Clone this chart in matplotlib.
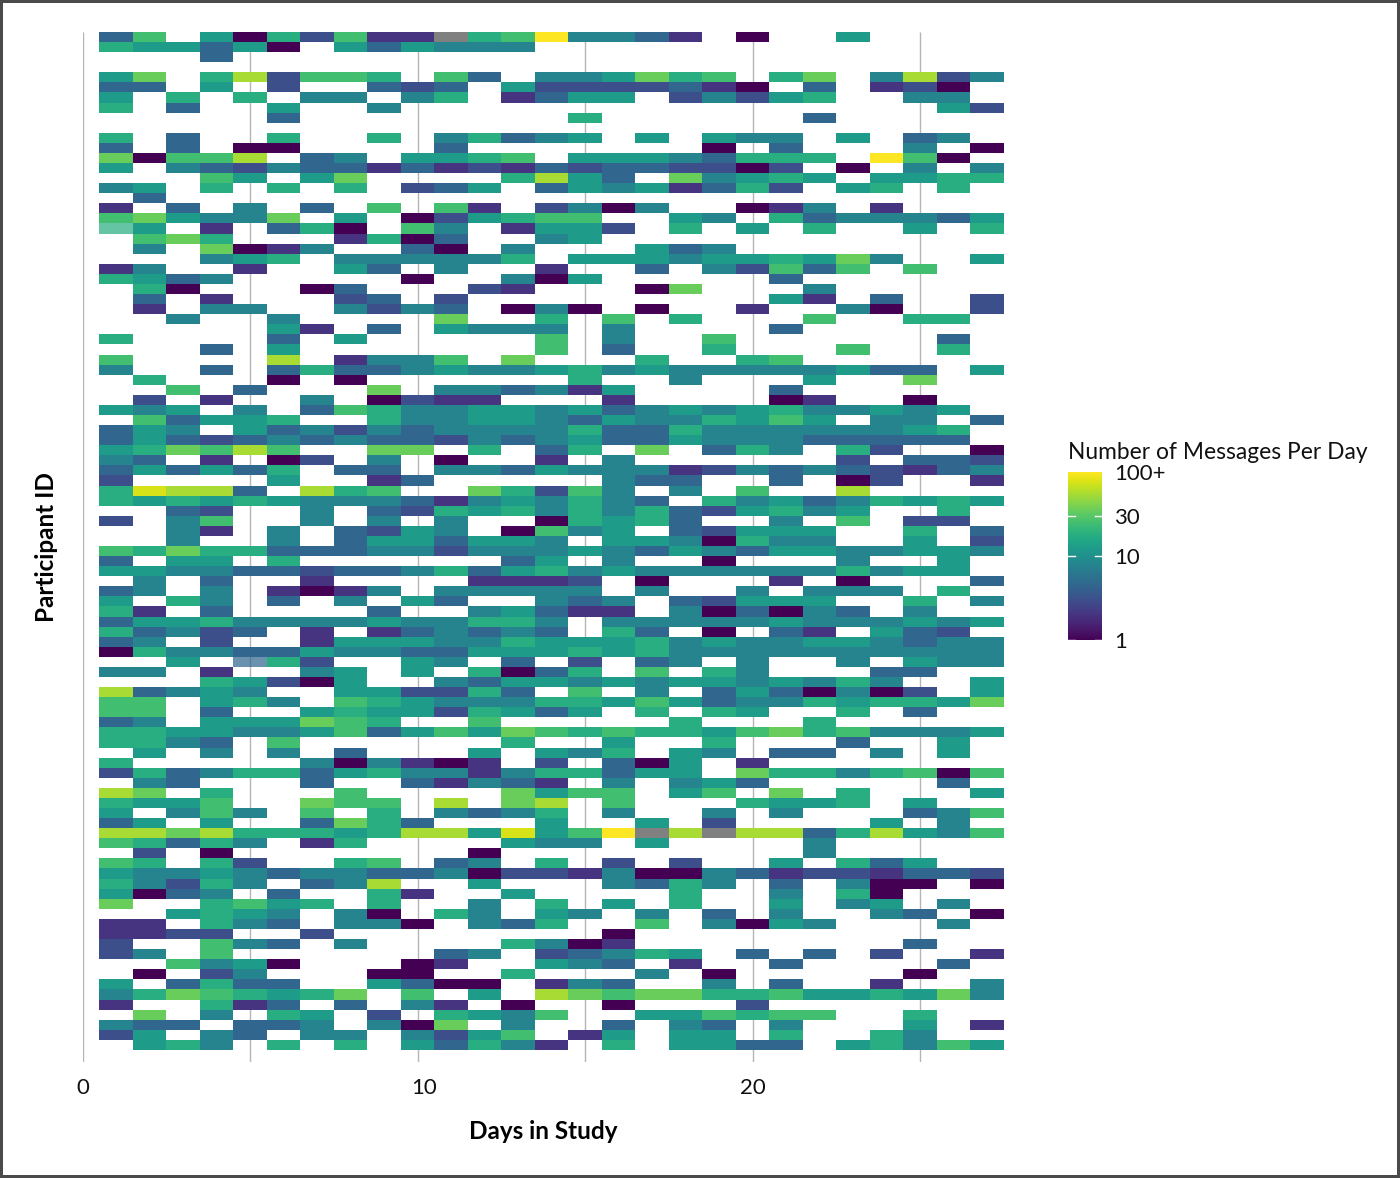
import matplotlib
matplotlib.use("Agg")
import matplotlib.pyplot as plt
import numpy as np
from matplotlib.colors import LogNorm
from matplotlib.transforms import ScaledTranslation

# Messages per day.
# One string per participant, one letter per study day, "." = no messages.
BAND_COUNTS = {"a": 1, "b": 2, "c": 3, "d": 4.6, "e": 8, "f": 12.5, "g": 18,
               "h": 25, "i": 35, "j": 55, "k": 75, "l": 100, "x": 150}

MESSAGE_ROWS = [
    "dh.fagchbbxghleedb.a..f....",
    "gffdfa.fdfeee..............",
    "...d.......................",
    "...........................",
    "fi.gjchhg.hd.eefigh.gi.ejce",
    "dd.f.c..dcd.fccccdba.d.bca.",
    "f.g.g.ee.eg.bdff.cecfg..ee.",
    "g.d..f..e................fc",
    ".....d........g......d.....",
    "...........................",
    "g.d..g..g.egdef.f.fee.f.de.",
    "d.d.aa....d.......a.d...e.a",
    "iahhj.de.ffgh.fffedggg.lha.",
    "f.edceddbdbcbdcddccac.a.e.e",
    "...hf.fi....gjfd.iefgf.ffgg",
    "ef.g.g.g.cdf.dfefbdgc.fg.g.",
    ".d.........................",
    "b.d.e.d.h.hb.ceae..abe.b...",
    "hifeei.f.acfghh..fe.gdeeedf",
    "gf.b.dga.he.bffc.g.f.g..f.g",
    ".hig...bgad..ef............",
    ".e.iabe..da.e...fde........",
    "...efg.eeeeeg.fffeffgfie..f",
    "be..b..fd.e..b..d.echdh.h..",
    "gfde.....a..eaf.....d......",
    ".ga...ad...cb...ai...e.....",
    ".d.b...cd.c.........fb.d..c",
    ".b.ee..eced.aea.a..b..ea..c",
    "..e..e....i..g.h.g...h..gg.",
    ".....fb.d.feee.e....d......",
    "g....d.f.....h.e..h......d.",
    "...d.f.......h.d..g...h..g.",
    "h....j.beeh.i...g..gh......",
    "e..d.dgddefeefgefeeeeefdd.f",
    ".g...a.a......g..e...f..i..",
    "..h.d...i.eedebf....d......",
    ".c.b..e.acbb...b....ab..a..",
    "fef.e.dhgeeffefdefefgeefef.",
    ".hdffg..geeffedfeegfhf.ee.d",
    "dfe.fdecedeeeegddgeeeeeefg.",
    "dfdcdededdcedefddfeeeddddd.",
    "fgihjh..ii.g.dg.i.dge.gc..a",
    "ed.b.ac.e.a..b.e......c.ddc",
    "dfdfdg.dd.eedfeeebcededcbde",
    "c....f..bd.....edd..d.ac..b",
    "gkjjd.jgh..igche.e.h..j....",
    "gfgfgfeeedbefeged.gefdegfgf",
    "..dc..e.dcgfgegegdcfgef..g.",
    "c.eh..e.e.e..agfgd..e.h.cc.",
    "..eb.e.dcfe.ahef.dcfff..g.d",
    "..e..e.dffdffe.ffeagee..f.c",
    "hgiggdddeeceeefedfedffeeffe",
    "d.ff.g......df.e..a...e..f.",
    "ffeeddcddegdfgefeeeeeegeff.",
    ".e.d..b....bbbc.a...b.a...d",
    "de.e.babe.eeeee.e..e.eee.g.",
    "f.ge.d.e.fd..ede.dcfff..g.e",
    "gb.d....d..efdbb.eadaed.e..",
    "dffgeeeefeegge.eeeeefeeefef",
    "gdecd.b.bdeded.gd.a.db.fdc.",
    "de.c..bfffeegfffgefeeffedee",
    "ageeddfeeddfffgfgeeeeeeeeee",
    "..f.dgc..fe.d.c.de.e..e.fee",
    "ee.b..ef.f.gadg.h.ge...dd..",
    "...gfcaf..edffefeffefege..f",
    "jdefe..ffccgd.h.e.dfdaeac.f",
    "hh.fge.hgfeeeggfhfdeegfggfi",
    "hh.d..fgffcgfdf.g.gf..g.d..",
    "de.fffihg..h.....g...g.....",
    "ggffeefhdfhfihghggfhigheeef",
    "gged.h......g..f..g...d..f.",
    ".f.e.e.d...f.feg.fe.dd.e.f.",
    "g.....eaebab.c.daf.b.......",
    "cgdeggdfgeebeggdff.iggeghah",
    ".ed...d..dbedb.e.efd.....d.",
    "ji.g...h....ifhh.fh.i.g...f",
    "gffh..ihh.j.ij.h...gffg.f..",
    "f.ehe.h.g.edeg.e..e.e...deh",
    "df.f..digd...f..f.c....f.e.",
    "jjijgggfgjjfkfhlxjxjjdgjfeh",
    "hgdge.bg....fee.f....e.....",
    ".c.a.......a.........e.....",
    "hg.gc..gh.de.g.c.c..f.gdf..",
    "feefedeeddeaccbeaaedbccbddc",
    "gecge.dej..f...edge.d.eaa.a",
    "fade.d..gb..f....g..e.ga...",
    "i..ghfg.g..e.g.f.g..f.ef.e.",
    "..fgfe.ea.ge.fe.e.d.e..ed.a",
    "bb.ged.eea.edg..h.eafe...e.",
    "bbcc..c........a...........",
    "c..hed.e....geab........d..",
    "ce.h......de.cdegf.d.d.c..b",
    "..hefa...ab..fed.b..d....d.",
    ".a.ce...aa..g...e.a.....a..",
    "f.dgdd..fdaa.bed..e.d..b..e",
    "egihgfgi.h.f.jihiigghffgfie",
    "b..gbd.d.eb.a..a...c.......",
    ".i.e.gf.c.gfeh..ffhghh..g..",
    "edd.dde.eai.e..d.ed.e...f.b",
    "cf.ed.ee.ecfh.bf.ff.g..ge..",
    ".fge.g.g.fdgeb.g.ffdd.fgehf",
]

# (participant, day) of the two washed out cells
FADED_CELLS = [(20, 1), (63, 5)]

X_TICKS = [0, 10, 20]
GRID_DAYS = [0, 5, 10, 15, 20, 25]
BAR_TICKS = [1, 10, 30, 100]
BAR_LABELS = ["1", "10", "30", "100+"]

W, H = 1400, 1178
plt.rcParams["font.family"] = ["Lato", "DejaVu Sans"]

counts = np.array([[BAND_COUNTS.get(c, np.nan) for c in row] for row in MESSAGE_ROWS])
alpha = np.ones(counts.shape)
for participant, day in FADED_CELLS:
    alpha[participant - 1, day - 1] = 0.72

fig = plt.figure(figsize=(W / 100, H / 100), dpi=100, facecolor="white",
                 edgecolor="#4a4a4a", linewidth=3)


# pixel box (from the top left corner) to figure fractions
def box(left, top, right, bottom):
    return [left / W, 1 - bottom / H, (right - left) / W, (bottom - top) / H]


ax = fig.add_axes(box(82.5, 32, 1003.75, 1062))
cmap = plt.get_cmap("viridis").copy()
cmap.set_over("#808080")
norm = LogNorm(vmin=1, vmax=100)

n_rows, n_days = counts.shape
x_edges = np.arange(n_days + 1) + 0.5
y_edges = np.arange(n_rows + 1) + 0.5
mesh = ax.pcolormesh(x_edges, y_edges, np.ma.masked_invalid(counts), cmap=cmap,
                     norm=norm, alpha=alpha, linewidth=0, zorder=2)

ax.vlines(GRID_DAYS, 0, 1, transform=ax.get_xaxis_transform(), color="#b5b5b5",
          linewidth=1, zorder=1)
ax.set_xlim(0, 27.5)
ax.set_ylim(102.7, 0.5)
ax.set_yticks([])
ax.set_xticks(X_TICKS)
ax.set_xticklabels([str(t) for t in X_TICKS])
ax.tick_params(axis="x", length=0, pad=11.5, labelsize=16, colors="#111111")
# the "10" sits a little right of its grid line in the original
ten_label = ax.get_xticklabels()[1]
ten_label.set_transform(ten_label.get_transform() + ScaledTranslation(7 / 100, 0, fig.dpi_scale_trans))
for spine in ax.spines.values():
    spine.set_visible(False)

ax.set_xlabel("Days in Study", fontsize=17.5, fontweight="bold", labelpad=16)
ax.set_ylabel("Participant ID", fontsize=17.5, fontweight="bold", labelpad=18)

# legend
cax = fig.add_axes(box(1068, 472, 1102, 640))
bar = fig.colorbar(mesh, cax=cax)
bar.solids.set_alpha(1)
bar.outline.set_visible(False)
bar.minorticks_off()
bar.set_ticks(BAR_TICKS)
bar.set_ticklabels(BAR_LABELS)
cax.tick_params(length=0, pad=9, labelsize=16, labelcolor="#111111")
for tick in BAR_TICKS[:-1]:
    cax.plot([0, 0.2], [tick, tick], color="white", linewidth=1,
             transform=cax.get_yaxis_transform())
    cax.plot([0.8, 1], [tick, tick], color="white", linewidth=1,
             transform=cax.get_yaxis_transform())
fig.text(1068 / W, 1 - 452.5 / H, "Number of Messages Per Day", fontsize=16.4,
         ha="left", va="center", color="#111111")

fig.savefig("out.png", dpi=100)
